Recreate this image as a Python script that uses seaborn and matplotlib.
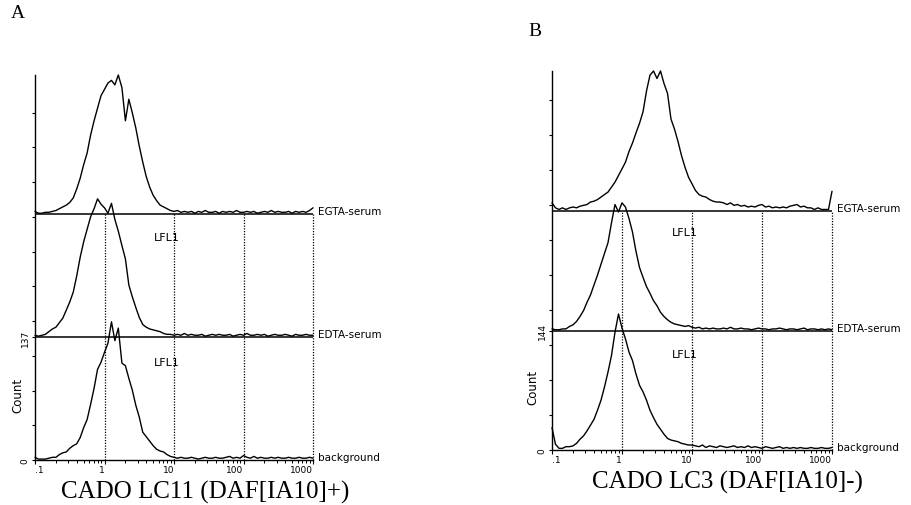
import numpy as np
import pandas as pd
import matplotlib
matplotlib.use("Agg")
import matplotlib.pyplot as plt
import seaborn as sns
from matplotlib.ticker import FixedLocator, LogLocator, NullFormatter

# ---------------- data ----------------
fluor = [0.1, 0.112, 0.126, 0.141, 0.158, 0.178, 0.2, 0.224, 0.251, 0.282,
         0.316, 0.355, 0.398, 0.447, 0.501, 0.562, 0.631, 0.708, 0.794, 0.891,
         1.0, 1.12, 1.26, 1.41, 1.58, 1.78, 2.0, 2.24, 2.51, 2.82,
         3.16, 3.55, 3.98, 4.47, 5.01, 5.62, 6.31, 7.08, 7.94, 8.91,
         10, 11.2, 12.6, 14.1, 15.8, 17.8, 20, 22.4, 25.1, 28.2,
         31.6, 35.5, 39.8, 44.7, 50.1, 56.2, 63.1, 70.8, 79.4, 89.1,
         100, 112, 126, 141, 158, 178, 200, 224, 251, 282,
         316, 355, 398, 447, 501, 562, 631, 708, 794, 891, 1000]

samples = ["background", "EDTA-serum", "EGTA-serum"]

a_egta = [3, 1, 1, 2, 2, 3, 4, 6, 8, 10, 13, 18, 28, 40, 55, 68, 88, 104, 118, 132,
          139, 146, 149, 144, 155, 141, 104, 128, 113, 96, 76, 58, 42, 30, 21, 15, 10, 8, 6, 4,
          3, 4, 2, 3, 2, 3, 1, 3, 2, 4, 2, 2, 3, 1, 3, 2, 3, 2, 4, 2,
          2, 3, 2, 3, 1, 2, 3, 2, 4, 2, 3, 2, 2, 3, 1, 3, 2, 3, 2, 4, 7]
a_edta = [2, 1, 2, 3, 6, 9, 11, 16, 21, 30, 39, 50, 68, 89, 106, 120, 134, 143, 154, 148,
          144, 138, 149, 131, 118, 102, 87, 58, 45, 33, 22, 14, 11, 9, 8, 7, 6, 4, 3, 3,
          2, 3, 2, 4, 2, 3, 2, 2, 3, 1, 2, 3, 2, 3, 2, 2, 3, 1, 2, 3,
          2, 4, 2, 2, 3, 2, 3, 1, 2, 3, 2, 2, 3, 2, 1, 3, 2, 2, 3, 2, 2]
a_bg = [3, 1, 1, 1, 2, 3, 3, 6, 8, 9, 13, 16, 18, 25, 36, 45, 62, 80, 101, 109,
        120, 130, 154, 133, 147, 108, 105, 91, 78, 61, 48, 31, 26, 21, 16, 12, 10, 9, 6, 4,
        3, 2, 3, 2, 2, 3, 2, 1, 2, 3, 2, 2, 3, 2, 2, 3, 4, 2, 3, 2,
        5, 3, 2, 4, 2, 3, 2, 2, 3, 2, 3, 2, 2, 3, 2, 2, 3, 2, 2, 3, 2]

b_egta = [10, 4, 2, 4, 2, 4, 5, 4, 6, 7, 8, 11, 12, 14, 17, 20, 23, 29, 35, 43,
          51, 59, 72, 82, 94, 106, 120, 145, 164, 169, 160, 169, 154, 142, 111, 99, 84, 67, 53, 41,
          33, 25, 20, 18, 17, 14, 12, 11, 11, 10, 8, 10, 7, 8, 6, 7, 5, 6, 5, 7,
          8, 5, 6, 4, 5, 4, 5, 4, 6, 7, 8, 5, 6, 4, 4, 2, 4, 2, 2, 2, 24]
b_edta = [2, 1, 1, 2, 2, 5, 7, 11, 17, 24, 34, 43, 55, 67, 80, 93, 106, 130, 152, 143,
          154, 149, 135, 119, 96, 76, 64, 53, 45, 36, 30, 22, 17, 13, 10, 8, 7, 6, 5, 6,
          4, 3, 4, 2, 3, 2, 3, 2, 2, 3, 2, 4, 2, 2, 3, 2, 2, 1, 2, 3,
          2, 2, 1, 2, 2, 3, 2, 1, 2, 2, 1, 2, 3, 1, 2, 2, 1, 2, 1, 2, 1]
b_bg = [27, 7, 2, 2, 4, 4, 5, 8, 13, 17, 23, 30, 37, 48, 60, 76, 94, 114, 142, 164,
        147, 134, 118, 108, 92, 78, 70, 60, 48, 39, 31, 25, 19, 14, 12, 11, 10, 8, 7, 6,
        6, 5, 4, 6, 3, 5, 4, 3, 5, 4, 3, 4, 5, 3, 4, 3, 5, 3, 4, 3,
        2, 4, 3, 2, 3, 4, 2, 3, 2, 3, 2, 3, 2, 2, 3, 2, 2, 3, 2, 2, 3]

xtick_vals = [0.1, 1, 10, 100, 1000]
xtick_labels = [".1", "1", "10", "100", "1000"]
gate_lines = [1, 10, 100, 1000]

panel_letters = ["A", "B"]
panel_titles = ["CADO LC11 (DAF[IA10]+)", "CADO LC3 (DAF[IA10]-)"]
band_counts = [137, 144]
panel_counts = [
    {"background": a_bg, "EDTA-serum": a_edta, "EGTA-serum": a_egta},
    {"background": b_bg, "EDTA-serum": b_edta, "EGTA-serum": b_egta},
]

# ---------------- layout / style ----------------
W, H = 911, 506
layout = [
    dict(left=35, right=313, bottom=461, top=76, ymax=429, tstep=38.7,
         lfl=(7.9, [109, 248]), count_xy=(18, 395),
         letter_xy=(18, 14), title_xy=(205, 492)),
    dict(left=552, right=832, bottom=451, top=72, ymax=457, tstep=42.2,
         lfl=(7.9, [116, 263]), count_xy=(533, 387),
         letter_xy=(535, 32), title_xy=(727, 482)),
]

sns.set_theme(style="ticks")
plt.rcParams["font.family"] = ["DejaVu Sans"]
for k in ("axes.edgecolor", "xtick.color", "ytick.color", "text.color",
          "axes.labelcolor", "xtick.labelcolor", "ytick.labelcolor"):
    plt.rcParams[k] = "black"

fig = plt.figure(figsize=(W / 100, H / 100), dpi=100)
fig.patch.set_facecolor("white")

for pi in range(2):
    L = layout[pi]
    band = band_counts[pi]
    rect = [L["left"] / W, (H - L["bottom"]) / H,
            (L["right"] - L["left"]) / W, (L["bottom"] - L["top"]) / H]
    ax = fig.add_axes(rect)
    ax.set_facecolor("white")

    rows = []
    for i, name in enumerate(samples):
        for x, c in zip(fluor, panel_counts[pi][name]):
            rows.append((name, x, c + i * band))
    df = pd.DataFrame(rows, columns=["sample", "fluor", "y"])

    sns.lineplot(data=df, x="fluor", y="y", units="sample", estimator=None,
                 color="black", linewidth=1.0, ax=ax, legend=False)
    for ln in ax.lines:
        ln.set_clip_on(False)

    ax.set_xscale("log")
    ax.set_xlim(0.1, 1000)
    ax.set_ylim(0, L["ymax"])

    # band baselines
    ax.hlines([band, 2 * band], 0.1, 1000, colors="black", linewidth=1.1, clip_on=False)
    # gate lines (dotted)
    ax.vlines(gate_lines, 0, 2 * band, colors="black", linewidth=0.9,
              linestyles=(0, (1, 1.2)), clip_on=False)

    sns.despine(ax=ax)
    for s in ("left", "bottom"):
        ax.spines[s].set_linewidth(1.0)
        ax.spines[s].set_color("black")

    # x ticks
    ax.set_xticks(xtick_vals)
    ax.set_xticklabels(xtick_labels, fontsize=6.5)
    ax.xaxis.set_minor_locator(LogLocator(base=10, subs=np.arange(2, 10)))
    ax.xaxis.set_minor_formatter(NullFormatter())
    ax.tick_params(axis="x", which="major", direction="out", length=3.2, width=0.8, pad=0.5)
    ax.tick_params(axis="x", which="minor", direction="out", length=2.4, width=0.7)
    lbls = ax.get_xticklabels()
    for lb in lbls:
        lb.set_ha("right")
    lbls[0].set_ha("left")

    # y ticks
    ax.set_yticks([0, band])
    ax.set_yticklabels(["0", str(band)], rotation=90, va="center", fontsize=6.5)
    ax.yaxis.set_minor_locator(FixedLocator(np.arange(L["tstep"], L["ymax"] - 5, L["tstep"])))
    ax.tick_params(axis="y", which="both", direction="out", length=2.4, width=0.8, pad=1.5)
    ax.set_xlabel("")
    ax.set_ylabel("")
    ax.grid(False)

    # right-hand sample labels
    for i, name in enumerate(samples):
        ax.annotate(name, xy=(1, i * band), xycoords=("axes fraction", "data"),
                    xytext=(3.5, 2.0), textcoords="offset points", color="black",
                    fontsize=7.5, ha="left", va="center", annotation_clip=False)

    # LFL1 labels
    lx, lys = L["lfl"]
    for ly in lys:
        ax.text(lx, ly, "LFL1", ha="center", va="center", fontsize=8, color="black")

    cx, cy = L["count_xy"]
    fig.text(cx / W, 1 - cy / H, "Count", rotation=90, ha="center", va="center",
             fontsize=8.5, color="black")

    lx2, ly2 = L["letter_xy"]
    fig.text(lx2 / W, 1 - ly2 / H, panel_letters[pi], ha="center", va="center",
             fontsize=14, family="Liberation Serif", color="black")
    tx, ty = L["title_xy"]
    fig.text(tx / W, 1 - ty / H, panel_titles[pi], ha="center", va="center",
             fontsize=18, family="Liberation Serif", color="black")

fig.savefig("out.png", dpi=100, facecolor="white")
